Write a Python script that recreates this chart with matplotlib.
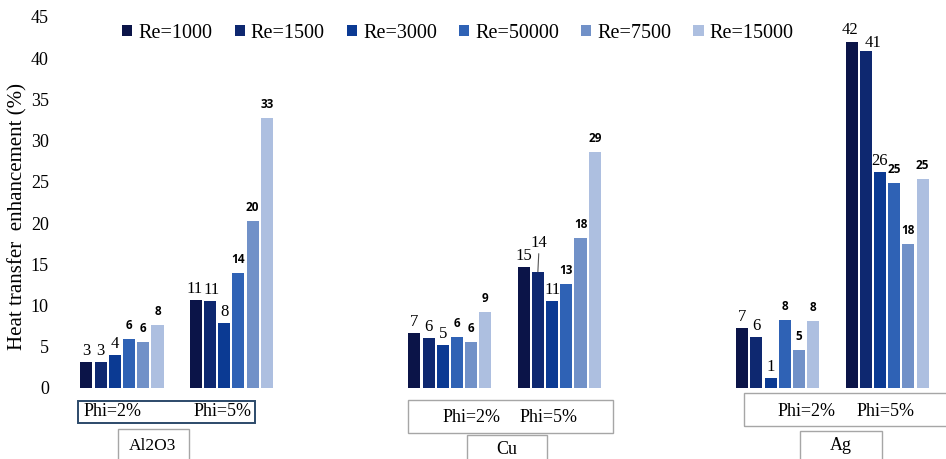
import matplotlib
matplotlib.use("Agg")
import matplotlib.pyplot as plt
from matplotlib.patches import Rectangle
import numpy as np

plt.rcParams['font.family'] = ['Liberation Serif', 'DejaVu Serif']

# groups: Al2O3 Phi=2%, Al2O3 Phi=5%, Cu Phi=2%, Cu Phi=5%, Ag Phi=2%, Ag Phi=5%
series_names = ["Re=1000", "Re=1500", "Re=3000", "Re=50000", "Re=7500", "Re=15000"]
re1000 = [3.2, 10.7, 6.7, 14.7, 7.3, 42.0]
re1500 = [3.2, 10.6, 6.1, 14.1, 6.2, 40.9]
re3000 = [4.0, 7.9, 5.2, 10.6, 1.2, 26.2]
re50000 = [5.9, 14.0, 6.2, 12.6, 8.3, 24.9]
re7500 = [5.6, 20.3, 5.6, 18.2, 4.6, 17.5]
re15000 = [7.7, 32.8, 9.2, 28.6, 8.1, 25.4]
materials = ["Al2O3", "Cu", "Ag"]
phi_labels = ["Phi=2%", "Phi=5%"]

colors = ["#0b1448", "#0e2870", "#0b3a93", "#2f62b5", "#7191c8", "#adbfe0"]
all_series = [re1000, re1500, re3000, re50000, re7500, re15000]

# a few labels sit off-centre in the original (series, group) -> (dx, dy) points
label_shift = {(1, 3): (1, 15), (0, 5): (-1, 3), (1, 5): (5, 0),
               (0, 1): (-1, 2), (1, 1): (1, 2)}

W, H = 946, 459
fig = plt.figure(figsize=(W / 100, H / 100), dpi=100)
ax = fig.add_axes([60 / W, (H - 388) / H, 880 / W, 371 / H])

group_x = np.array([0, 1, 3, 4, 6, 7])
bw = 0.11
step = 0.13

bars = []
for i, vals in enumerate(all_series):
    xs = group_x + (i - 2.5) * step
    b = ax.bar(xs, vals, width=bw, color=colors[i], label=series_names[i])
    bars.append(b)
    for j, (x, v) in enumerate(zip(xs, vals)):
        txt = f"{v:.0f}"
        if i < 3:
            dx, dy = label_shift.get((i, j), (0, 2))
            arrow = None
            if (i, j) == (1, 3):
                arrow = dict(arrowstyle="-", color="#555555", lw=0.8, shrinkA=0, shrinkB=0)
            ax.annotate(txt, (x, v), xytext=(dx, dy), textcoords="offset points",
                        ha="center", va="bottom", fontsize=12, arrowprops=arrow)
        else:
            ax.annotate(txt, (x, v), xytext=(0, 5), textcoords="offset points",
                        ha="center", va="bottom", fontsize=8.5, fontweight="bold",
                        family=["Open Sans", "DejaVu Sans"])

ax.set_ylim(0, 45)
ax.set_xlim(-0.567, 7.484)
ax.set_yticks(range(0, 46, 5))
ax.tick_params(axis="y", length=0, pad=8, labelsize=13)
ax.set_xticks([])
for s in ax.spines.values():
    s.set_visible(False)

fig.text(18 / W, 1 - 217 / H, "Heat transfer  enhancement (%)", rotation=90,
         ha="center", va="center", fontsize=15)

fig.legend(handles=bars, loc="center", bbox_to_anchor=(458 / W, 1 - 33 / H), ncol=6,
           frameon=False, prop=dict(family="Liberation Serif", size=14.5),
           handlelength=0.5, handleheight=0.5, handletextpad=0.3, columnspacing=1.1)


# category boxes below the bars (pixel layout)
def box(x0, y0, x1, y1, ec, lw=1.0):
    fig.patches.append(Rectangle((x0 / W, 1 - y1 / H), (x1 - x0) / W, (y1 - y0) / H,
                                 transform=fig.transFigure, fill=False, ec=ec, lw=lw))


def label(x, y, s, size=13):
    fig.text(x / W, 1 - y / H, s, ha="center", va="center", fontsize=size)


box(78, 401, 255, 423, "#2c4a6a", 1.4)
label(113, 412, phi_labels[0])
label(223, 412, phi_labels[1])
box(118, 429, 189, 470, "#a6a6a6")
label(153, 446, materials[0], 12.5)

box(408, 400, 613, 433, "#a6a6a6")
label(472, 417, phi_labels[0])
label(549, 417, phi_labels[1])
box(467, 435, 547, 470, "#a6a6a6")
label(507, 449, materials[1])

box(744, 393, 950, 426, "#a6a6a6")
label(807, 411, phi_labels[0])
label(886, 411, phi_labels[1])
box(800, 431, 882, 470, "#a6a6a6")
label(841, 446, materials[2])

fig.savefig("out.png", dpi=100)
